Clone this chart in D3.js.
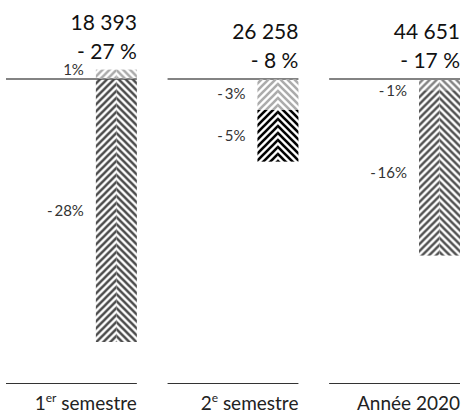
<!DOCTYPE html>
<html>
<head>
<meta charset="utf-8">
<script src="https://cdn.jsdelivr.net/npm/d3@7"></script>
<style>
body { margin: 0; background: #fff; }
svg { display: block; font-family: Lato, "Noto Sans", sans-serif; }
</style>
</head>
<body>
<script>
var periods = ["1er semestre", "2e semestre", "Année 2020"];
var totals = ["18 393", "26 258", "44 651"];
var totalChange = ["- 27 %", "- 8 %", "- 17 %"];
var segValues = [[1, -28], [-3.3, -5.5], [-1.2, -17.6]];
var segLabels = [["1%", "-\u200928%"], ["-\u20093%", "-\u20095%"], ["-\u20091%", "-\u200916%"]];
var segColors = [["#ababab", "#4d4d4d"], ["#ababab", "#000000"], ["#858585", "#555555"]];

var width = 463,
    height = 414,
    barW = 41,
    step = 7;

var svg = d3.select("body").append("svg")
    .attr("width", width)
    .attr("height", height);

var x = d3.scaleBand().domain(periods).range([6, 460]).paddingInner(0.19);
var y = d3.scaleLinear().domain([0, -28]).range([79, 342]);

var defs = svg.append("defs");

// chevron hatch: "/" on the left half, "\" on the right
function hatch(id, color, cx, dir) {
    var s = step, h = s / 2;
    var p = defs.append("pattern")
        .attr("id", id)
        .attr("patternUnits", "userSpaceOnUse")
        .attr("x", cx).attr("y", 0)
        .attr("width", s).attr("height", s);
    var d = dir == "L"
        ? "M0," + s + "L" + s + ",0M" + (-h) + "," + h + "L" + h + "," + (-h) + "M" + h + "," + (s + h) + "L" + (s + h) + "," + h
        : "M0,0L" + s + "," + s + "M" + (-h) + "," + h + "L" + h + "," + (s + h) + "M" + h + "," + (-h) + "L" + (s + h) + "," + h;
    p.append("path")
        .attr("d", d)
        .style("stroke", color)
        .style("stroke-width", 2.6)
        .style("fill", "none");
}

periods.forEach(function(per, i) {
    var x0 = x(per), x1 = x0 + x.bandwidth();
    var bx = x1 - barW, cx = bx + barW / 2;
    var g = svg.append("g");

    // baseline at zero and bottom rule
    g.append("line")
        .attr("x1", x0).attr("x2", x1)
        .attr("y1", y(0)).attr("y2", y(0))
        .style("stroke", "#5a5a5a")
        .style("stroke-width", 1.6);
    g.append("line")
        .attr("x1", x0).attr("x2", x1)
        .attr("y1", 383.5).attr("y2", 383.5)
        .style("stroke", "#333")
        .style("stroke-width", 1);

    var pos = 0, neg = 0, top = y(0);
    segValues[i].forEach(function(v, j) {
        var a, b;
        if (v >= 0) { a = pos; b = pos + v; pos = b; }
        else { a = neg; b = neg + v; neg = b; }
        var ya = Math.min(y(a), y(b)), yb = Math.max(y(a), y(b));
        top = Math.min(top, ya);
        var idL = "p" + i + j + "L", idR = "p" + i + j + "R";
        hatch(idL, segColors[i][j], cx, "L");
        hatch(idR, segColors[i][j], cx, "R");
        g.append("rect")
            .attr("x", bx).attr("y", ya)
            .attr("width", barW / 2).attr("height", yb - ya)
            .style("fill", "url(#" + idL + ")");
        g.append("rect")
            .attr("x", cx).attr("y", ya)
            .attr("width", barW / 2).attr("height", yb - ya)
            .style("fill", "url(#" + idR + ")");
        var ly = (ya + yb) / 2 + 5;
        if (v < 0) ly = Math.max(ly, ya + 17);
        else ly = Math.min(ly, yb - 4);
        g.append("text")
            .attr("x", bx - 12)
            .attr("y", ly)
            .attr("text-anchor", "end")
            .style("font-size", "15px")
            .style("fill", "#333")
            .text(segLabels[i][j]);
    });

    g.append("text")
        .attr("x", x1)
        .attr("y", top - 11)
        .attr("text-anchor", "end")
        .style("font-size", "21px")
        .style("fill", "#111")
        .text(totalChange[i]);
    g.append("text")
        .attr("x", x1)
        .attr("y", top - 40)
        .attr("text-anchor", "end")
        .style("font-size", "21px")
        .style("fill", "#111")
        .text(totals[i]);

    // period label, with superscript ordinal
    var t = g.append("text")
        .attr("x", x1)
        .attr("y", 410)
        .attr("text-anchor", "end")
        .style("font-size", "19px")
        .style("fill", "#222");
    var m = per.match(/^(\d)(er|e)( .*)$/);
    if (m) {
        t.append("tspan").text(m[1]);
        t.append("tspan").attr("dy", -8).style("font-size", "12px").text(m[2]);
        t.append("tspan").attr("dy", 8).text(m[3]);
    } else {
        t.text(per);
    }
});
</script>
</body>
</html>
